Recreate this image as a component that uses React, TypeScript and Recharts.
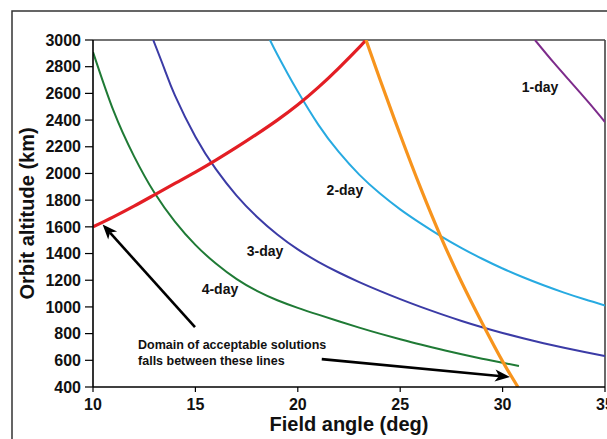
import React from 'react';
import { LineChart, Line, XAxis, YAxis, ReferenceLine, ReferenceDot } from 'recharts';

const xTicks = [10, 15, 20, 25, 30, 35];
const yTicks = [400, 600, 800, 1000, 1200, 1400, 1600, 1800, 2000, 2200, 2400, 2600, 2800, 3000];

const redLine = [
  { x: 10, y: 1600 }, { x: 11, y: 1675 }, { x: 12, y: 1755 }, { x: 13, y: 1840 },
  { x: 14, y: 1925 }, { x: 15, y: 2010 }, { x: 16, y: 2100 }, { x: 17, y: 2195 },
  { x: 18, y: 2295 }, { x: 19, y: 2400 }, { x: 20, y: 2515 }, { x: 21, y: 2645 },
  { x: 22, y: 2790 }, { x: 23, y: 2945 }, { x: 23.33, y: 3000 },
];

const orangeLine = [
  { x: 23.33, y: 3000 }, { x: 24, y: 2709 }, { x: 25, y: 2290 }, { x: 26, y: 1890 },
  { x: 27, y: 1520 }, { x: 28, y: 1185 }, { x: 29, y: 880 }, { x: 30, y: 592 },
  { x: 30.75, y: 400 },
];

const fourDay = [
  { x: 10, y: 2910 }, { x: 11, y: 2470 }, { x: 12, y: 2130 }, { x: 13, y: 1855 },
  { x: 14, y: 1640 }, { x: 15, y: 1465 }, { x: 16, y: 1325 }, { x: 17, y: 1210 },
  { x: 18, y: 1120 }, { x: 19, y: 1050 }, { x: 20, y: 993 }, { x: 21, y: 942 },
  { x: 22, y: 893 }, { x: 23, y: 845 }, { x: 24, y: 800 }, { x: 25, y: 758 },
  { x: 26, y: 718 }, { x: 27, y: 681 }, { x: 28, y: 645 }, { x: 29, y: 612 },
  { x: 30, y: 582 }, { x: 30.8, y: 558 },
];

const threeDay = [
  { x: 12.94, y: 3000 }, { x: 13.5, y: 2778 }, { x: 14, y: 2585 }, { x: 15, y: 2275 },
  { x: 16, y: 2032 }, { x: 17, y: 1836 }, { x: 18, y: 1676 }, { x: 19, y: 1543 },
  { x: 20, y: 1431 }, { x: 21, y: 1338 }, { x: 22, y: 1258 }, { x: 23, y: 1186 },
  { x: 24, y: 1120 }, { x: 25, y: 1058 }, { x: 26, y: 1000 }, { x: 27, y: 946 },
  { x: 28, y: 895 }, { x: 29, y: 848 }, { x: 30, y: 805 }, { x: 31, y: 765 },
  { x: 32, y: 728 }, { x: 33, y: 694 }, { x: 34, y: 662 }, { x: 35, y: 632 },
];

const twoDay = [
  { x: 18.64, y: 3000 }, { x: 19, y: 2891 }, { x: 19.5, y: 2749 }, { x: 20, y: 2614 },
  { x: 21, y: 2366 }, { x: 22, y: 2161 }, { x: 23, y: 1991 }, { x: 24, y: 1851 },
  { x: 25, y: 1731 }, { x: 26, y: 1626 }, { x: 27, y: 1529 }, { x: 28, y: 1441 },
  { x: 29, y: 1361 }, { x: 30, y: 1288 }, { x: 31, y: 1222 }, { x: 32, y: 1162 },
  { x: 33, y: 1107 }, { x: 34, y: 1057 }, { x: 35, y: 1011 },
];

const oneDay = [
  { x: 31.58, y: 3000 }, { x: 32.5, y: 2830 }, { x: 33.3, y: 2690 }, { x: 34.2, y: 2532 },
  { x: 35, y: 2385 },
];

const curveLabels = [
  { x: 31.83, y: 2649, text: '1-day' },
  { x: 22.3, y: 1879, text: '2-day' },
  { x: 18.4, y: 1416, text: '3-day' },
  { x: 16.2, y: 1132, text: '4-day' },
];

const noteLines = ['Domain of acceptable solutions', 'falls between these lines'];
const noteAnchor = { x: 12.2, y: 715 };

const arrows = [
  { from: { x: 14.98, y: 848 }, to: { x: 10.47, y: 1618 } },
  { from: { x: 21.17, y: 609 }, to: { x: 30.36, y: 475 } },
];

const FONT = '"Liberation Sans", Arial, Helvetica, sans-serif';

const ArrowShape = (props: any) => {
  const { x1, y1, x2, y2 } = props;
  const ang = Math.atan2(y2 - y1, x2 - x1);
  const L = 15;
  const W = 6;
  const cos = Math.cos(ang);
  const sin = Math.sin(ang);
  const bx = x2 - L * cos;
  const by = y2 - L * sin;
  const nx = x2 - (L - 4) * cos;
  const ny = y2 - (L - 4) * sin;
  const p1 = `${x2},${y2}`;
  const p2 = `${bx - W * sin},${by + W * cos}`;
  const p3 = `${nx},${ny}`;
  const p4 = `${bx + W * sin},${by - W * cos}`;
  return (
    <g>
      <line x1={x1} y1={y1} x2={nx} y2={ny} stroke="#000" strokeWidth={2.6} />
      <polygon points={`${p1} ${p2} ${p3} ${p4}`} fill="#000" />
    </g>
  );
};

const makeTextShape = (text: string) => (props: any) => (
  <text
    x={props.cx}
    y={props.cy}
    textAnchor="middle"
    dominantBaseline="central"
    fontFamily={FONT}
    fontWeight="bold"
    fontSize={14}
    fill="#111"
  >
    {text}
  </text>
);

const NoteShape = (props: any) => (
  <text x={props.cx} y={props.cy} fontFamily={FONT} fontWeight="bold" fontSize={12.5} fill="#111">
    {noteLines.map((t, i) => (
      <tspan key={i} x={props.cx} dy={i === 0 ? '0.35em' : 16}>
        {t}
      </tspan>
    ))}
  </text>
);

const series = [
  { data: fourDay, color: '#1f7a35', width: 2 },
  { data: threeDay, color: '#3b3ba6', width: 2 },
  { data: twoDay, color: '#27aae1', width: 2 },
  { data: oneDay, color: '#7d2b8b', width: 2 },
  { data: redLine, color: '#e31e24', width: 3.2 },
  { data: orangeLine, color: '#f7941d', width: 3.2 },
];

export default function App() {
  return (
    <div style={{ position: 'absolute', left: 0, top: 0, width: 607, height: 439, background: '#fff', overflow: 'hidden' }}>
      <LineChart width={607} height={439} margin={{ top: 40, right: 2, bottom: 0, left: 0 }}>
        <XAxis
          type="number"
          dataKey="x"
          domain={[10, 35]}
          ticks={xTicks}
          interval={0}
          height={52}
          allowDataOverflow
          axisLine={{ stroke: '#000', strokeWidth: 1.6 }}
          tickLine={{ stroke: '#000', strokeWidth: 1.2 }}
          tickSize={5}
          tickMargin={7}
          tick={{ fill: '#111', fontSize: 16, fontWeight: 'bold', fontFamily: FONT }}
        />
        <YAxis
          type="number"
          dataKey="y"
          domain={[400, 3000]}
          ticks={yTicks}
          interval={0}
          width={93}
          allowDataOverflow
          axisLine={{ stroke: '#000', strokeWidth: 1.6 }}
          tickLine={{ stroke: '#000', strokeWidth: 1.2 }}
          tickSize={8}
          tickMargin={4}
          tick={{ fill: '#111', fontSize: 16, fontWeight: 'bold', fontFamily: FONT }}
        />
        <ReferenceLine y={3000} stroke="#444" strokeWidth={1.6} />
        <ReferenceLine x={35} stroke="#444" strokeWidth={1.6} />
        {series.map((s, i) => (
          <Line
            key={i}
            data={s.data}
            dataKey="y"
            type="natural"
            stroke={s.color}
            strokeWidth={s.width}
            dot={false}
            activeDot={false}
            isAnimationActive={false}
          />
        ))}
        {arrows.map((a, i) => (
          <ReferenceLine
            key={'a' + i}
            segment={[a.from, a.to]}
            ifOverflow="visible"
            shape={ArrowShape}
          />
        ))}
        {curveLabels.map((l, i) => (
          <ReferenceDot key={'l' + i} x={l.x} y={l.y} r={0} ifOverflow="visible" shape={makeTextShape(l.text)} />
        ))}
        <ReferenceDot x={noteAnchor.x} y={noteAnchor.y} r={0} ifOverflow="visible" shape={NoteShape} />
      </LineChart>
      <svg width={607} height={439} style={{ position: 'absolute', left: 0, top: 0, pointerEvents: 'none' }}>
        <polyline points="12,439 12,11 607,11" fill="none" stroke="#333" strokeWidth={1.5} />
        <text
          x={27}
          y={213.5}
          transform="rotate(-90 27 213.5)"
          textAnchor="middle"
          dominantBaseline="central"
          fontFamily={FONT}
          fontWeight="bold"
          fontSize={20}
          fill="#111"
        >
          Orbit altitude (km)
        </text>
        <text x={349} y={431} textAnchor="middle" fontFamily={FONT} fontWeight="bold" fontSize={20} fill="#111">
          Field angle (deg)
        </text>
      </svg>
    </div>
  );
}
